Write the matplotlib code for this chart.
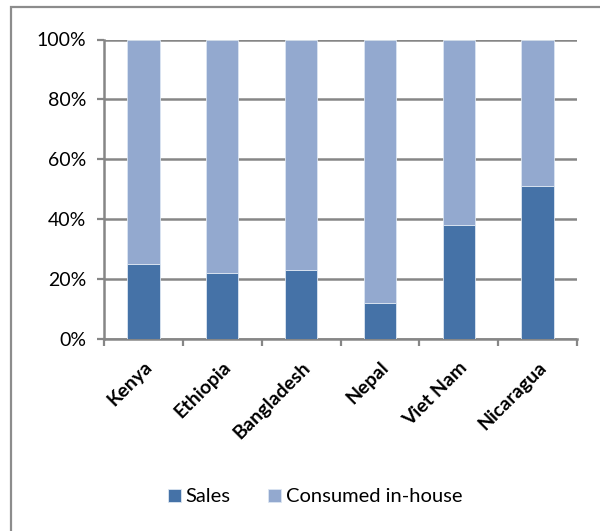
import numpy as np
import matplotlib.pyplot as plt
from matplotlib.patches import Rectangle

countries = ["Kenya", "Ethiopia", "Bangladesh", "Nepal", "Viet Nam", "Nicaragua"]
sales = [25, 22, 23, 12, 38, 51]
consumed = [100 - s for s in sales]
y_ticks = [0, 20, 40, 60, 80, 100]

plt.rcParams['font.family'] = ['Lato', 'DejaVu Sans']

fig = plt.figure(figsize=(6, 5.31), dpi=100)
ax = fig.add_axes([104 / 600, 1 - 339 / 531, 473 / 600, 299.5 / 531])

# outer chart frame (only left and top edges fall inside the image)
fig.patches.append(Rectangle((11 / 600, -0.1), 1.2, 1 - 7 / 531 + 0.1,
                             transform=fig.transFigure, fill=False,
                             edgecolor='#8c8c8c', linewidth=1.6))

x = np.arange(len(countries))
ax.bar(x, sales, width=0.41, color='#4572A7', edgecolor='#dce6f2',
       linewidth=0.6, label='Sales', zorder=3)
ax.bar(x, consumed, width=0.41, bottom=sales, color='#93A9CF',
       edgecolor='#dce6f2', linewidth=0.6, label='Consumed in-house', zorder=3)

ax.set_xlim(-0.5, len(countries) - 0.5)
ax.set_ylim(0, 100)
ax.set_yticks(y_ticks)
ax.set_yticklabels([f"{t}%" for t in y_ticks], fontsize=14)
ax.yaxis.grid(True, color='#868686', linewidth=1.8, zorder=0)
ax.set_axisbelow(True)

# category ticks sit between the bars
ax.set_xticks(np.arange(len(countries) + 1) - 0.5)
ax.set_xticklabels([])
ax.set_xticks(x, minor=True)
ax.set_xticklabels(countries, minor=True, rotation=45, ha='right',
                   rotation_mode='anchor', fontsize=14, fontweight='bold')
ax.tick_params(axis='x', which='minor', length=0, pad=14)
ax.tick_params(axis='x', which='major', length=5, width=1.6, color='#868686')
ax.tick_params(axis='y', length=5, width=1.6, color='#868686', pad=8)

for side in ['top', 'right']:
    ax.spines[side].set_visible(False)
for side in ['left', 'bottom']:
    ax.spines[side].set_color('#868686')
    ax.spines[side].set_linewidth(1.8)

fig.legend(loc='center', bbox_to_anchor=(315 / 600, 1 - 497 / 531), ncol=2,
           frameon=False, fontsize=14.5, handlelength=0.65, handleheight=0.65,
           handletextpad=0.2, columnspacing=1.9)

fig.savefig('out.png', dpi=100)
